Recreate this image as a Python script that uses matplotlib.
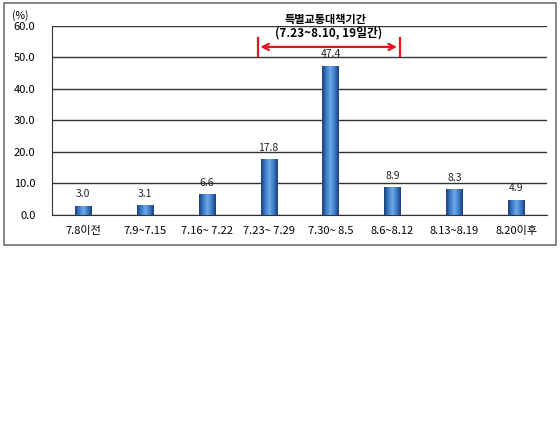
import numpy as np
import matplotlib
matplotlib.use("Agg")
import matplotlib.pyplot as plt
from matplotlib.colors import LinearSegmentedColormap
from matplotlib.patches import Rectangle

plt.rcParams['font.family'] = ['Noto Sans CJK KR', 'DejaVu Sans']

# --- data ---
periods = ["7.8이전", "7.9~7.15", "7.16~ 7.22", "7.23~ 7.29",
           "7.30~ 8.5", "8.6~8.12", "8.13~8.19", "8.20이후"]
shares = [3.0, 3.1, 6.6, 17.8, 47.4, 8.9, 8.3, 4.9]
yticks = [0, 10, 20, 30, 40, 50, 60]
span_title = "특별교통대책기간"
span_sub = "(7.23~8.10, 19일간)"

fig = plt.figure(figsize=(5.6, 4.3), dpi=100)
ax = fig.add_axes([0.093, 0.5, 0.884, 0.44])

# outer frame of the chart
fig.patches.append(Rectangle((0.008, 0.43), 0.985, 0.563, transform=fig.transFigure,
                             fill=False, edgecolor='#707070', lw=1.2))

x = np.arange(len(periods))
width = 0.26
bars = ax.bar(x, shares, width=width, color='#2f6bb5', zorder=3)

# horizontal shading to mimic the cylinder look
cmap = LinearSegmentedColormap.from_list('cyl', ['#1b3f78', '#3c7cc8', '#6fa8e6', '#3c7cc8', '#1b3f78'])
grad = np.linspace(0, 1, 64).reshape(1, -1)
for b in bars:
    im = ax.imshow(grad, cmap=cmap, aspect='auto', zorder=4,
                   extent=[b.get_x(), b.get_x() + b.get_width(), 0, b.get_height()])
    im.set_clip_path(b)

for xi, v in zip(x, shares):
    ax.text(xi, v + 2.0, f"{v:.1f}", ha='center', va='bottom', fontsize=7.5, color='#222222')

ax.set_xlim(-0.5, len(periods) - 0.5)
ax.set_ylim(0, 60)
ax.set_yticks(yticks)
ax.set_yticklabels([f"{t:.1f}" for t in yticks], fontsize=8)
ax.set_xticks(x)
ax.set_xticklabels(periods, fontsize=8)
ax.tick_params(axis='y', length=0, pad=12)
ax.tick_params(axis='x', length=0, pad=8)
ax.yaxis.grid(True, color='#333333', lw=1.0, zorder=1)
ax.set_axisbelow(True)
for s in ['top', 'right']:
    ax.spines[s].set_visible(False)
ax.spines['left'].set_color('#333333')
ax.spines['bottom'].set_color('#333333')

ax.text(-0.08, 1.025, "(%)", transform=ax.transAxes, fontsize=7.5, ha='left', va='bottom')

# special traffic period arrow
x0, x1, ya = 2.82, 5.12, 53.3
ax.annotate('', xy=(x0, ya), xytext=(x1, ya),
            arrowprops=dict(arrowstyle='<->', color='#e8141c', lw=1.6, mutation_scale=11),
            zorder=5)
ax.plot([x0, x0], [50.5, 56.0], color='#e8141c', lw=1.6, zorder=5)
ax.plot([x1, x1], [50.5, 56.0], color='#e8141c', lw=1.6, zorder=5)
ax.text((x0 + x1) / 2 - 0.05, 61.9, span_title, ha='center', va='center',
        fontsize=8, fontweight='bold', clip_on=False)
ax.text((x0 + x1) / 2, 57.7, span_sub, ha='center', va='center',
        fontsize=8.5, fontweight='bold', clip_on=False)

fig.savefig("out.png", dpi=100)
